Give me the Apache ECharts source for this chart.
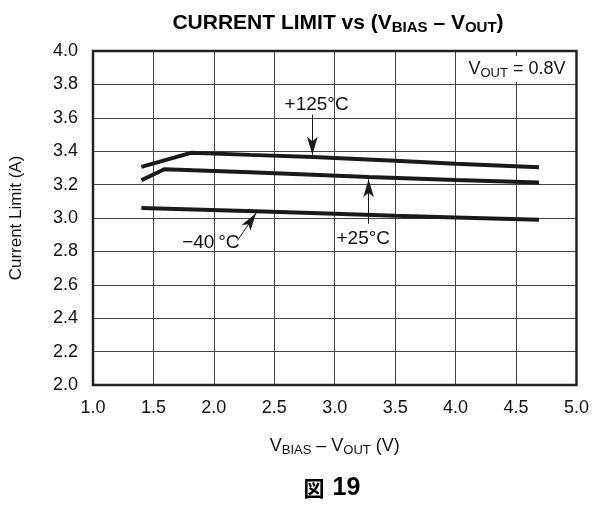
<!DOCTYPE html>
<html>
<head>
<meta charset="utf-8">
<script src="https://cdn.jsdelivr.net/npm/echarts@6/dist/echarts.min.js"></script>
<style>
  html, body { margin: 0; padding: 0; background: #fff; }
  #chart { width: 592px; height: 505px; }
</style>
</head>
<body>
<div id="chart"></div>
<script>
// curves: [V_BIAS - V_OUT, current limit]
const hot125 = [[1.4, 3.306], [1.81, 3.39], [2.3, 3.378], [2.82, 3.366], [3.5, 3.343], [4.0, 3.325], [4.69, 3.304]]
const room25 = [[1.4, 3.226], [1.59, 3.292], [2.3, 3.274], [3.28, 3.246], [4.0, 3.228], [4.69, 3.212]]
const cold40 = [[1.4, 3.06], [2.34, 3.04], [3.0, 3.025], [3.5, 3.013], [4.0, 3.003], [4.69, 2.99]]

const xTicks = [1.0, 1.5, 2.0, 2.5, 3.0, 3.5, 4.0, 4.5, 5.0]
const yTicks = [2.0, 2.2, 2.4, 2.6, 2.8, 3.0, 3.2, 3.4, 3.6, 3.8, 4.0]

// annotation arrows: [from, to] in data units
const arrows = [
  [[2.815, 3.62], [2.815, 3.378]],
  [[3.28, 2.966], [3.28, 3.232]],
  [[2.195, 2.865], [2.35, 3.03]]
]
// annotation labels: [x, y, text]
const notes = [
  [2.85, 3.68, '+125°C'],
  [3.236, 2.876, '+25°C'],
  [1.975, 2.85, '\u221240\u2009°C']
]

const font = 'Liberation Sans, Arial, Helvetica, sans-serif'
const lineColor = '#1a1a1a'

const chart = echarts.init(document.getElementById('chart'))

function curve(name, data) {
  return {
    name: name,
    type: 'line',
    data: data,
    showSymbol: false,
    silent: true,
    lineStyle: { color: lineColor, width: 4 },
    z: 3
  }
}

chart.setOption({
  animation: false,
  title: {
    text: 'CURRENT LIMIT vs (V{sub|BIAS} \u2013 V{sub|OUT})',
    left: 333,
    textAlign: 'center',
    top: 6,
    textStyle: {
      fontFamily: font,
      fontSize: 21,
      fontWeight: 'bold',
      color: '#000',
      rich: {
        sub: { fontFamily: font, fontSize: 15, fontWeight: 'bold', color: '#000', padding: [9, 0, 0, 0] }
      }
    }
  },
  grid: { left: 88, right: 13, top: 51, bottom: 120 },
  xAxis: {
    type: 'value',
    min: 1, max: 5, interval: 0.5,
    name: 'V{sub|BIAS} \u2013 V{sub|OUT} (V)',
    nameLocation: 'middle',
    nameGap: 50,
    nameTextStyle: {
      fontFamily: font, fontSize: 18, color: '#111',
      rich: { sub: { fontFamily: font, fontSize: 13, color: '#111', padding: [9, 0, 0, 0] } }
    },
    axisLine: { show: false },
    axisTick: { show: false },
    axisLabel: {
      margin: 14, fontFamily: font, fontSize: 18, color: '#111',
      formatter: v => v.toFixed(1)
    },
    splitLine: { show: true, lineStyle: { color: '#444', width: 1 } }
  },
  yAxis: {
    type: 'value',
    min: 2, max: 4, interval: 0.2,
    name: 'Current Limit (A)',
    nameLocation: 'middle',
    nameGap: 68,
    nameTextStyle: { fontFamily: font, fontSize: 17, color: '#111' },
    axisLine: { show: false },
    axisTick: { show: false },
    axisLabel: {
      margin: 15, fontFamily: font, fontSize: 18, color: '#111',
      formatter: v => v.toFixed(1)
    },
    splitLine: { show: true, lineStyle: { color: '#444', width: 1 } }
  },
  series: [
    curve('+125°C', hot125),
    curve('+25°C', room25),
    curve('-40°C', cold40),
    {
      type: 'line',
      data: [],
      silent: true,
      markLine: {
        silent: true,
        symbol: ['none', 'arrow'],
        symbolSize: [8, 18],
        label: { show: false },
        lineStyle: { color: lineColor, width: 1, type: 'solid' },
        data: arrows.map(a => [{ coord: a[0] }, { coord: a[1] }])
      }
    }
  ]
})

// text notes and frame placed through the axes
const gridRect = chart.getModel().getComponent('grid').coordinateSystem.getRect()
const graphics = notes.map(n => {
  const p = chart.convertToPixel({ gridIndex: 0 }, [n[0], n[1]])
  return {
    type: 'text', x: p[0], y: p[1], z: 10,
    style: { text: n[2], fontFamily: font, fontSize: 19, fill: '#111', align: 'center', verticalAlign: 'middle' }
  }
})
graphics.push({
  type: 'rect', z: 5,
  shape: { x: gridRect.x, y: gridRect.y, width: gridRect.width, height: gridRect.height },
  style: { fill: 'none', stroke: '#222', lineWidth: 2.5 }
})
graphics.push({
  type: 'text', z: 10,
  x: gridRect.x + gridRect.width - 9, y: gridRect.y + 18,
  style: {
    text: 'V{sub|OUT} = 0.8V',
    fontFamily: font, fontSize: 18, fill: '#111',
    align: 'right', verticalAlign: 'middle',
    backgroundColor: '#fff', padding: [2, 2, 2, 2],
    rich: { sub: { fontFamily: font, fontSize: 13, fill: '#111', padding: [9, 0, 0, 0] } }
  }
})
graphics.push({
  type: 'text', z: 10, x: 332, y: 488,
  style: {
    text: '{k|図}{g|}{n|19}',
    fill: '#000', align: 'center', verticalAlign: 'middle',
    rich: {
      k: { fontFamily: 'Noto Sans CJK JP, sans-serif', fontSize: 21, fontWeight: 'bold', fill: '#000' },
      g: { width: 8 },
      n: { fontFamily: font, fontSize: 25, fontWeight: 'bold', fill: '#000' }
    }
  }
})
chart.setOption({ graphic: graphics })
</script>
</body>
</html>
